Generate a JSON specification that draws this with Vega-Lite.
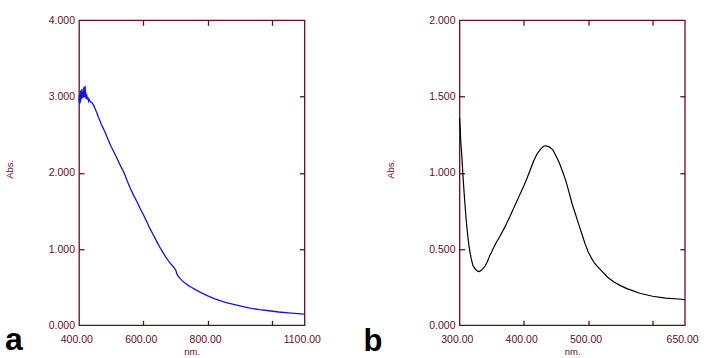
{
  "$schema": "https://vega.github.io/schema/vega-lite/v6.json",
  "background": "white",
  "padding": {"left": 4, "top": 14.25, "right": 0, "bottom": 0},
  "datasets": {
    "a": [
      {"nm": 400, "abs": 2.93}, {"nm": 401, "abs": 3.02}, {"nm": 402, "abs": 2.9}, {"nm": 403, "abs": 3.05},
      {"nm": 404, "abs": 2.92}, {"nm": 405, "abs": 3.08}, {"nm": 406, "abs": 2.95}, {"nm": 407, "abs": 3.06},
      {"nm": 408, "abs": 2.97}, {"nm": 409, "abs": 3.1}, {"nm": 410, "abs": 2.99}, {"nm": 411, "abs": 3.05},
      {"nm": 412, "abs": 2.98}, {"nm": 413, "abs": 3.07}, {"nm": 414, "abs": 3.0}, {"nm": 415, "abs": 3.12},
      {"nm": 416, "abs": 3.02}, {"nm": 417, "abs": 3.08}, {"nm": 418, "abs": 2.99}, {"nm": 419, "abs": 3.14},
      {"nm": 420, "abs": 3.02}, {"nm": 421, "abs": 3.06}, {"nm": 422, "abs": 2.97}, {"nm": 424, "abs": 3.03},
      {"nm": 426, "abs": 2.96}, {"nm": 428, "abs": 2.99}, {"nm": 430, "abs": 2.94}, {"nm": 432, "abs": 2.96},
      {"nm": 435, "abs": 2.93}, {"nm": 440, "abs": 2.92}, {"nm": 445, "abs": 2.89}, {"nm": 450, "abs": 2.84},
      {"nm": 455, "abs": 2.79}, {"nm": 460, "abs": 2.73}, {"nm": 470, "abs": 2.63}, {"nm": 480, "abs": 2.54},
      {"nm": 490, "abs": 2.44}, {"nm": 500, "abs": 2.34}, {"nm": 510, "abs": 2.26}, {"nm": 520, "abs": 2.17},
      {"nm": 530, "abs": 2.08}, {"nm": 540, "abs": 2.0}, {"nm": 550, "abs": 1.89}, {"nm": 560, "abs": 1.79},
      {"nm": 570, "abs": 1.7}, {"nm": 580, "abs": 1.62}, {"nm": 590, "abs": 1.53}, {"nm": 600, "abs": 1.45},
      {"nm": 610, "abs": 1.36}, {"nm": 620, "abs": 1.27}, {"nm": 630, "abs": 1.19}, {"nm": 640, "abs": 1.11},
      {"nm": 650, "abs": 1.03}, {"nm": 660, "abs": 0.96}, {"nm": 670, "abs": 0.89}, {"nm": 680, "abs": 0.83},
      {"nm": 690, "abs": 0.78}, {"nm": 698, "abs": 0.74}, {"nm": 701, "abs": 0.715}, {"nm": 704, "abs": 0.67},
      {"nm": 710, "abs": 0.63}, {"nm": 720, "abs": 0.585}, {"nm": 730, "abs": 0.55}, {"nm": 740, "abs": 0.52},
      {"nm": 750, "abs": 0.495}, {"nm": 760, "abs": 0.47}, {"nm": 780, "abs": 0.425}, {"nm": 800, "abs": 0.385},
      {"nm": 820, "abs": 0.35}, {"nm": 840, "abs": 0.32}, {"nm": 860, "abs": 0.295}, {"nm": 880, "abs": 0.273},
      {"nm": 900, "abs": 0.255}, {"nm": 930, "abs": 0.226}, {"nm": 960, "abs": 0.205}, {"nm": 990, "abs": 0.19},
      {"nm": 1020, "abs": 0.174}, {"nm": 1050, "abs": 0.162}, {"nm": 1080, "abs": 0.152}, {"nm": 1100, "abs": 0.146}
    ],
    "b": [
      {"nm": 300, "abs": 1.36}, {"nm": 301, "abs": 1.3}, {"nm": 302, "abs": 1.2}, {"nm": 303.5, "abs": 1.12},
      {"nm": 305, "abs": 1.01}, {"nm": 306, "abs": 0.94}, {"nm": 308, "abs": 0.82}, {"nm": 310, "abs": 0.71},
      {"nm": 312, "abs": 0.62}, {"nm": 315, "abs": 0.51}, {"nm": 318, "abs": 0.44}, {"nm": 321, "abs": 0.39},
      {"nm": 325, "abs": 0.365}, {"nm": 328, "abs": 0.355}, {"nm": 331, "abs": 0.352}, {"nm": 334, "abs": 0.36},
      {"nm": 337, "abs": 0.375}, {"nm": 340, "abs": 0.39}, {"nm": 343, "abs": 0.415}, {"nm": 346, "abs": 0.445},
      {"nm": 348, "abs": 0.465}, {"nm": 350, "abs": 0.48}, {"nm": 352, "abs": 0.5}, {"nm": 356, "abs": 0.535},
      {"nm": 362, "abs": 0.577}, {"nm": 370, "abs": 0.64}, {"nm": 378, "abs": 0.71}, {"nm": 385, "abs": 0.775},
      {"nm": 393, "abs": 0.85}, {"nm": 400, "abs": 0.915}, {"nm": 405, "abs": 0.965}, {"nm": 410, "abs": 1.02},
      {"nm": 415, "abs": 1.075}, {"nm": 420, "abs": 1.12}, {"nm": 425, "abs": 1.15}, {"nm": 430, "abs": 1.172},
      {"nm": 433, "abs": 1.177}, {"nm": 436, "abs": 1.175}, {"nm": 440, "abs": 1.168}, {"nm": 445, "abs": 1.15},
      {"nm": 450, "abs": 1.11}, {"nm": 455, "abs": 1.065}, {"nm": 460, "abs": 1.01}, {"nm": 465, "abs": 0.95},
      {"nm": 470, "abs": 0.875}, {"nm": 475, "abs": 0.795}, {"nm": 480, "abs": 0.73}, {"nm": 485, "abs": 0.665},
      {"nm": 490, "abs": 0.6}, {"nm": 495, "abs": 0.535}, {"nm": 500, "abs": 0.48}, {"nm": 505, "abs": 0.44},
      {"nm": 510, "abs": 0.405}, {"nm": 520, "abs": 0.36}, {"nm": 530, "abs": 0.315}, {"nm": 540, "abs": 0.283},
      {"nm": 550, "abs": 0.26}, {"nm": 560, "abs": 0.24}, {"nm": 570, "abs": 0.225}, {"nm": 580, "abs": 0.21},
      {"nm": 590, "abs": 0.2}, {"nm": 600, "abs": 0.19}, {"nm": 620, "abs": 0.178}, {"nm": 640, "abs": 0.172},
      {"nm": 650, "abs": 0.168}
    ]
  },
  "spacing": 154.5,
  "bounds": "flush",
  "hconcat": [
    {
      "width": 225.5,
      "height": 305,
      "title": {"text": "a", "orient": "bottom", "anchor": "start", "frame": "group", "font": "Liberation Sans", "fontSize": 32, "fontWeight": "bold", "color": "black", "baseline": "alphabetic", "dx": -74, "offset": -6},
      "layer": [
        {
          "data": {"name": "a"},
          "mark": {"type": "line", "color": "#1414dc", "strokeWidth": 1.3},
          "encoding": {
            "x": {"field": "nm", "type": "quantitative", "scale": {"domain": [400, 1100], "nice": false, "zero": false},
                  "axis": {"orient": "bottom", "values": [400, 600, 800, 1100], "format": ".2f", "ticks": false, "labelPadding": 17.5, "labelBaseline": "alphabetic", "labelOffset": -2.7, "title": "nm.", "titleX": 112.75, "titleY": 29.5, "titleBaseline": "alphabetic"}},
            "y": {"field": "abs", "type": "quantitative", "scale": {"domain": [0, 4], "nice": false, "zero": false},
                  "axis": {"orient": "left", "values": [0, 1, 2, 3, 4], "format": ".3f", "ticks": false, "labelPadding": 4.5, "title": "Abs.", "titleX": -66.2, "titleY": 148.5, "titleBaseline": "alphabetic", "titleAlign": "center", "titleAngle": -90}}
          }
        },
        {
          "data": {"name": "a"},
          "mark": {"type": "line", "opacity": 0},
          "encoding": {
            "x": {"field": "nm", "type": "quantitative", "axis": {"orient": "bottom", "values": [600, 800, 1000], "labels": false, "title": null}},
            "y": {"field": "abs", "type": "quantitative", "axis": {"orient": "left", "values": [1, 2, 3], "labels": false, "title": null}}
          }
        },
        {
          "data": {"name": "a"},
          "mark": {"type": "line", "opacity": 0},
          "encoding": {
            "x": {"field": "nm", "type": "quantitative", "axis": {"orient": "top", "values": [600, 800, 1000], "labels": false, "title": null}},
            "y": {"field": "abs", "type": "quantitative", "axis": {"orient": "right", "values": [1, 2, 3], "labels": false, "title": null}}
          }
        }
      ],
      "resolve": {"axis": {"x": "independent", "y": "independent"}}
    },
    {
      "width": 225.3,
      "height": 305,
      "title": {"text": "b", "orient": "bottom", "anchor": "start", "frame": "group", "font": "Liberation Sans", "fontSize": 31, "fontWeight": "bold", "color": "black", "baseline": "alphabetic", "dx": -96, "offset": -5},
      "layer": [
        {
          "data": {"name": "b"},
          "mark": {"type": "line", "color": "black", "strokeWidth": 1.2},
          "encoding": {
            "x": {"field": "nm", "type": "quantitative", "scale": {"domain": [300, 650], "nice": false, "zero": false},
                  "axis": {"orient": "bottom", "values": [300, 400, 500, 650], "format": ".2f", "ticks": false, "labelPadding": 17.5, "labelBaseline": "alphabetic", "labelOffset": -2.7, "title": "nm.", "titleX": 112.65, "titleY": 29.5, "titleBaseline": "alphabetic"}},
            "y": {"field": "abs", "type": "quantitative", "scale": {"domain": [0, 2], "nice": false, "zero": false},
                  "axis": {"orient": "left", "values": [0, 0.5, 1, 1.5, 2], "format": ".3f", "ticks": false, "labelPadding": 4.5, "title": "Abs.", "titleX": -66.2, "titleY": 148.5, "titleBaseline": "alphabetic", "titleAlign": "center", "titleAngle": -90}}
          }
        },
        {
          "data": {"name": "b"},
          "mark": {"type": "line", "opacity": 0},
          "encoding": {
            "x": {"field": "nm", "type": "quantitative", "axis": {"orient": "bottom", "values": [400, 500, 600], "labels": false, "title": null}},
            "y": {"field": "abs", "type": "quantitative", "axis": {"orient": "left", "values": [0.5, 1, 1.5], "labels": false, "title": null}}
          }
        },
        {
          "data": {"name": "b"},
          "mark": {"type": "line", "opacity": 0},
          "encoding": {
            "x": {"field": "nm", "type": "quantitative", "axis": {"orient": "top", "values": [400, 500, 600], "labels": false, "title": null}},
            "y": {"field": "abs", "type": "quantitative", "axis": {"orient": "right", "values": [0.5, 1, 1.5], "labels": false, "title": null}}
          }
        }
      ],
      "resolve": {"axis": {"x": "independent", "y": "independent"}}
    }
  ],
  "config": {
    "view": {"stroke": "#6c0c1a", "strokeWidth": 1.3},
    "axis": {
      "domain": false,
      "grid": false,
      "tickSize": -5,
      "tickColor": "#6c0c1a",
      "tickWidth": 1.3,
      "labelFont": "Liberation Sans",
      "labelFontSize": 10.5,
      "labelColor": "#6c0c1a",
      "labelFlush": false,
      "labelOverlap": false,
      "titleFont": "Liberation Sans",
      "titleFontSize": 9.5,
      "titleFontWeight": "normal",
      "titleColor": "#6c0c1a"
    }
  }
}
